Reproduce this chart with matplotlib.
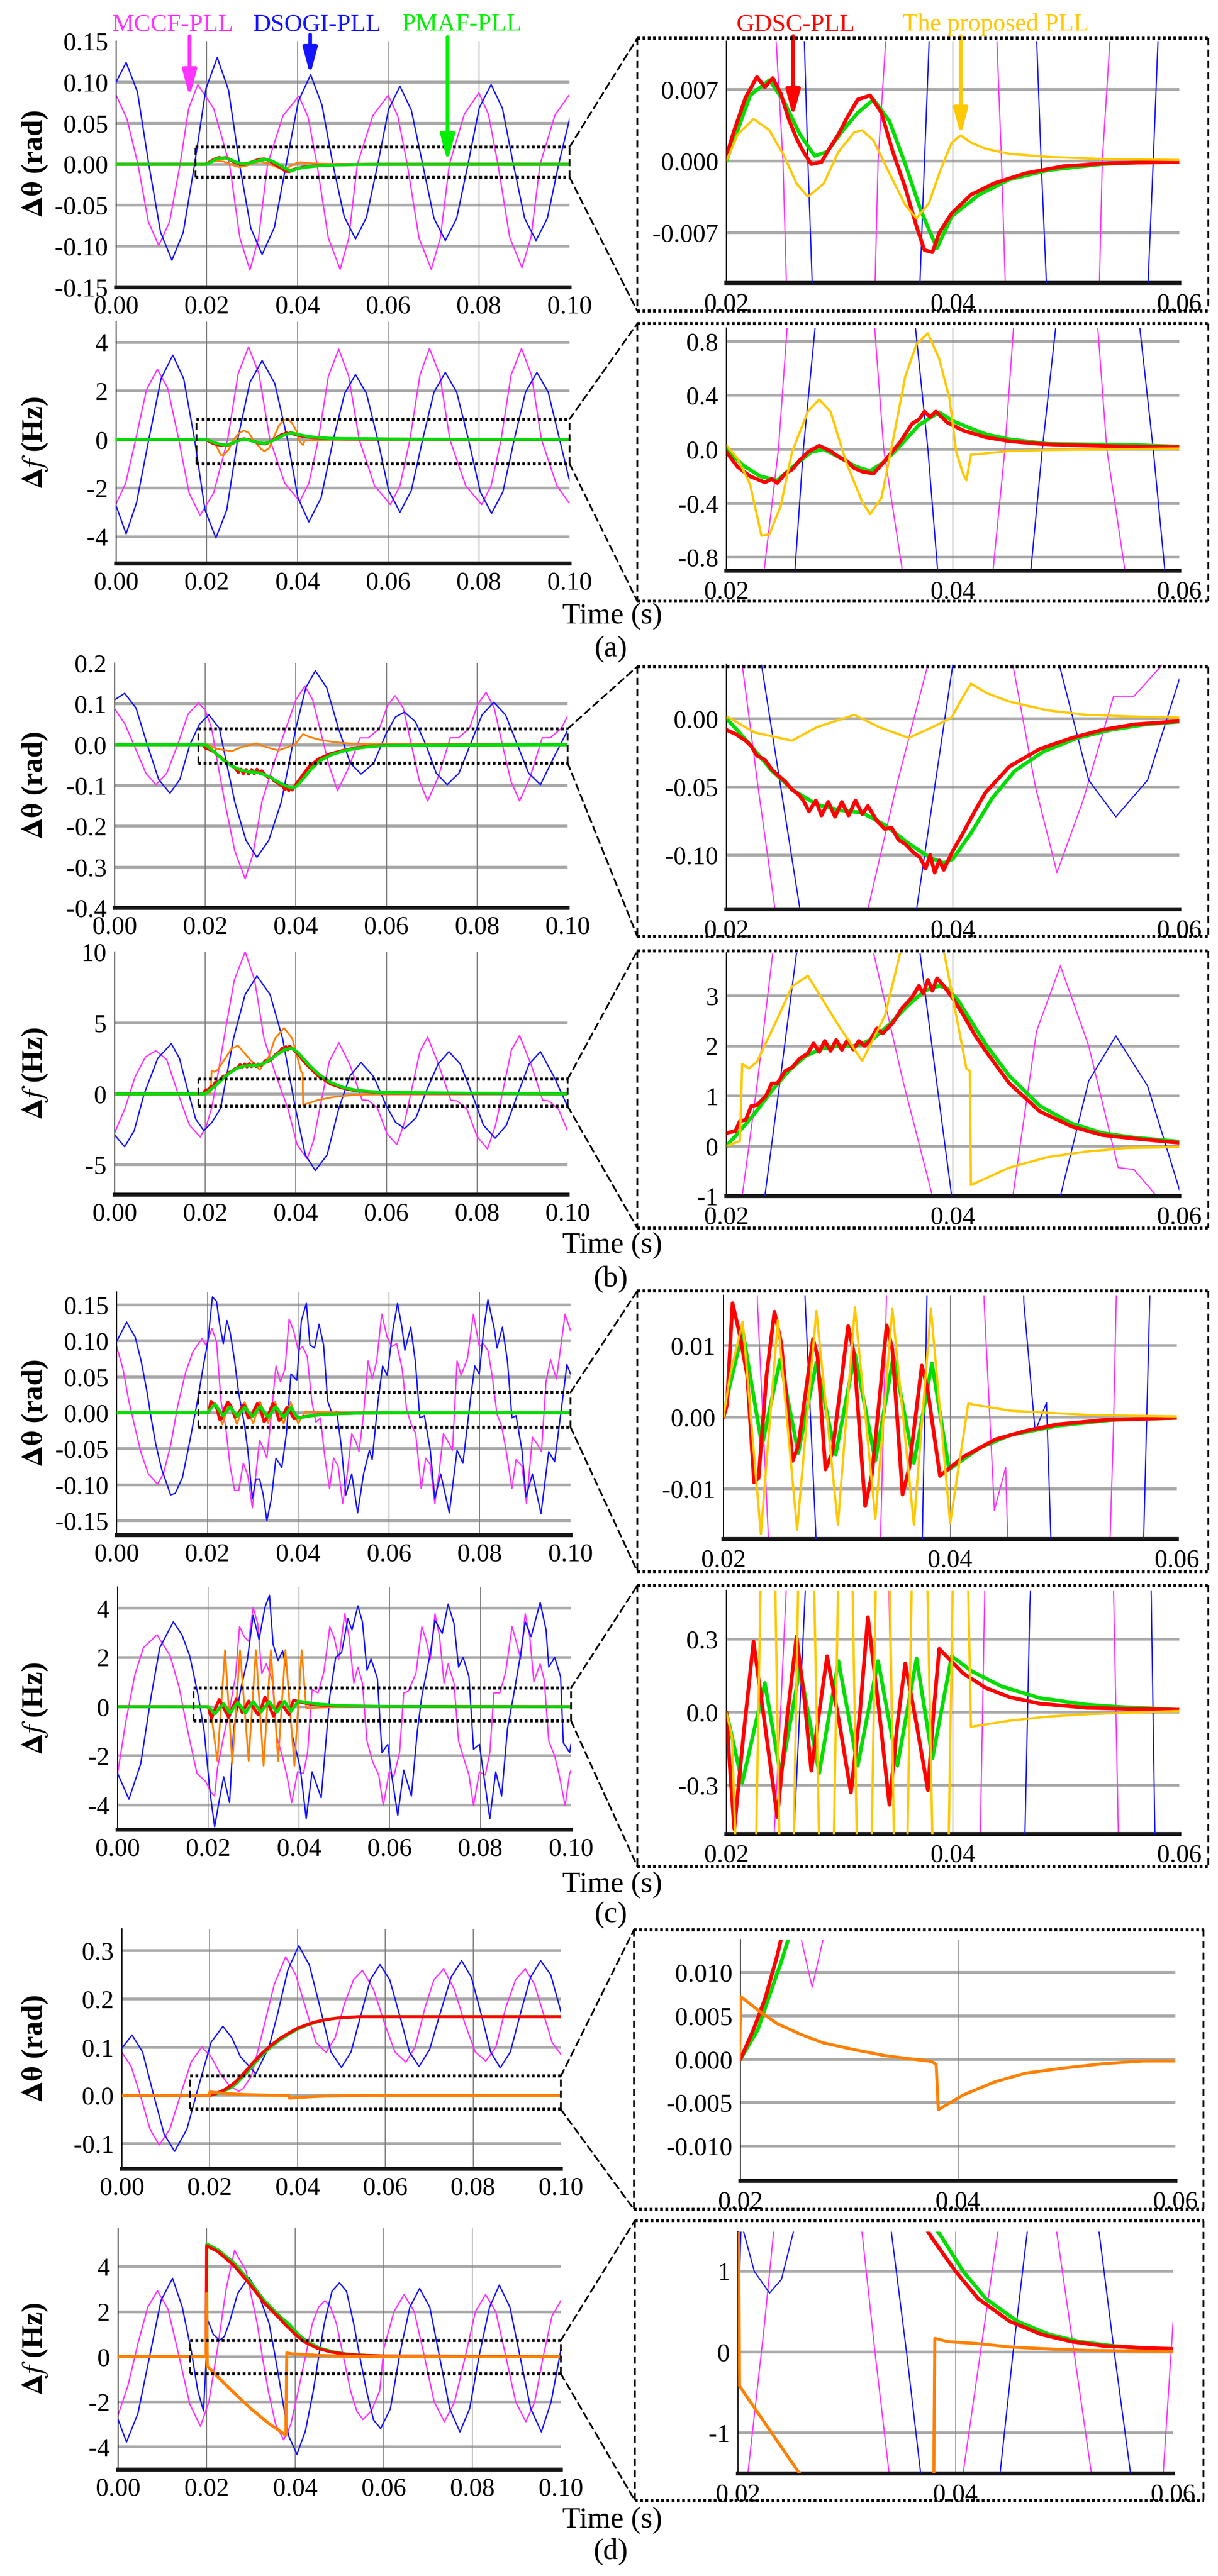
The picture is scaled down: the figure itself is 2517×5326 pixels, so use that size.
import numpy as np
import matplotlib
matplotlib.use('Agg')
import matplotlib.pyplot as plt
from matplotlib.patches import ConnectionPatch
from matplotlib.lines import Line2D

plt.rcParams['font.family'] = ['Liberation Serif', 'DejaVu Serif']
plt.rcParams['mathtext.fontset'] = 'stix'

# ---------------- data: (time in ms, value) ----------------
# (a) theta
A_TH_BLUE = [(0, 0.100), (2.2, 0.124), (4.7, 0.088), (7.2, 0.0), (9.8, -0.083), (12.3, -0.117), (14.8, -0.083),
             (17.3, 0.0), (19.8, 0.092), (22.3, 0.130), (24.8, 0.090), (27.2, 0.0), (29.7, -0.078), (32.2, -0.110),
             (34.9, -0.077), (37.5, 0.0), (40.2, 0.077), (42.9, 0.109), (45.4, 0.072), (47.8, 0.0), (50.3, -0.064),
             (52.8, -0.091), (55.2, -0.065), (57.7, 0.0), (60.1, 0.067), (62.6, 0.095), (65.1, 0.066), (67.6, 0.0),
             (70.1, -0.066), (72.6, -0.093), (75.1, -0.066), (77.6, 0.0), (80.1, 0.069), (82.7, 0.097), (85.2, 0.068),
             (87.6, 0.0), (90.1, -0.066), (92.6, -0.093), (95.1, -0.066), (97.6, 0.0), (100, 0.055)]
A_TH_MAG = [(0, 0.084), (2.4, 0.055), (4.8, 0.0), (7.1, -0.07), (9.4, -0.099), (11.8, -0.07), (14.1, 0.0),
            (16.0, 0.068), (18.0, 0.097), (21.5, 0.068), (25.0, 0.0), (27.3, -0.09), (29.5, -0.129), (31.4, -0.09),
            (33.4, 0.0), (36.8, 0.059), (40.3, 0.083), (42.3, 0.058), (44.3, 0.0), (46.8, -0.09), (49.4, -0.128),
            (51.3, -0.09), (53.2, 0.0), (56.6, 0.059), (60.0, 0.084), (62.1, 0.059), (64.2, 0.0), (66.8, -0.09),
            (69.5, -0.128), (71.5, -0.09), (73.5, 0.0), (76.8, 0.061), (80.0, 0.087), (82.1, 0.061), (84.2, 0.0),
            (86.8, -0.089), (89.5, -0.126), (91.5, -0.089), (93.5, 0.0), (96.8, 0.060), (100, 0.085)]
A_TH_RED = [(0, 0), (19.5, 0), (20, 0.0005), (20.7, 0.003), (21.7, 0.0062), (22.7, 0.0082), (23.4, 0.0072),
            (24.1, 0.0081), (24.8, 0.0066), (25.5, 0.0041), (26.2, 0.0022), (26.8, 0.0009), (27.5, -0.0003),
            (28.4, -0.0001), (29.2, 0.0014), (29.9, 0.0026), (30.6, 0.0041), (31.6, 0.006), (32.7, 0.0064),
            (33.7, 0.0047), (34.7, 0.0009), (35.8, -0.0026), (36.8, -0.0064), (37.5, -0.0087), (38.2, -0.0089),
            (38.8, -0.007), (39.9, -0.0051), (41.6, -0.0033), (43.6, -0.0022), (46.4, -0.0012), (49.8, -0.0005),
            (53.9, -0.0002), (60, -0.0001), (100, 0.0)]
A_TH_GREEN = [(0, 0), (20, 0), (21.0, 0.003), (22.1, 0.0064), (23.8, 0.0079), (25.1, 0.0058), (26.5, 0.0026),
              (27.8, 0.0005), (28.9, 0.0009), (30.3, 0.003), (31.6, 0.0047), (33.0, 0.006), (34.4, 0.0039),
              (35.8, -0.0003), (37.2, -0.0049), (38.6, -0.0085), (39.9, -0.0054), (42.3, -0.0033), (45.0, -0.0018),
              (48.4, -0.0009), (53.2, -0.0003), (57.3, -0.0001), (100, 0.0)]
A_TH_PROP = [(0, 0), (20, 0), (21.0, 0.0026), (22.4, 0.0041), (23.8, 0.003), (25.1, 0.0005), (26.2, -0.0022),
             (27.2, -0.0035), (28.6, -0.0022), (29.9, 0.0009), (31.3, 0.0028), (32.0, 0.003), (33.0, 0.002),
             (34.4, -0.0012), (35.8, -0.0043), (36.8, -0.0056), (37.9, -0.0041), (38.8, -0.0012), (39.9, 0.0018),
             (40.7, 0.0025), (41.6, 0.0018), (42.9, 0.0012), (45.0, 0.0007), (48.4, 0.0004), (53.2, 0.0002),
             (60, 0.0001), (100, 0.0)]
# (a) frequency
A_F_BLUE = [(0, -2.73), (2.2, -3.88), (4.5, -2.6), (7.2, 0.0), (9.9, 2.5), (12.5, 3.47), (14.9, 2.5), (17.3, 0.0),
            (19.6, -2.9), (22.0, -4.05), (24.4, -2.9), (26.8, 0.0), (29.5, 2.35), (32.2, 3.25), (35.0, 2.3),
            (37.8, 0.0), (40.1, -2.4), (42.5, -3.39), (45.2, -2.4), (47.9, 0.0), (50.4, 1.9), (52.8, 2.67),
            (55.2, 1.9), (57.7, 0.0), (60.1, -2.1), (62.6, -2.99), (65.1, -2.1), (67.6, 0.0), (70.1, 1.95),
            (72.6, 2.76), (75.1, 1.95), (77.7, 0.0), (80.3, -2.15), (82.8, -3.04), (85.3, -2.15), (87.8, 0.0),
            (90.3, 1.95), (92.8, 2.76), (95.3, 1.95), (97.8, 0.0), (100, -1.7)]
A_F_MAG = [(0, -2.64), (2.1, -1.8), (4.3, 0.0), (6.7, 2.05), (9.1, 2.89), (11.4, 2.1), (13.8, 0.0), (16.1, -2.2),
           (18.5, -3.12), (21.5, -2.2), (24.6, 0.0), (26.9, 2.7), (29.2, 3.81), (31.5, 2.7), (33.9, 0.0),
           (37.2, -1.8), (40.5, -2.55), (42.5, -1.8), (44.6, 0.0), (46.8, 2.6), (49.1, 3.72), (51.3, 2.6),
           (53.6, 0.0), (57.0, -1.9), (60.5, -2.68), (62.6, -1.9), (64.8, 0.0), (67.0, 2.65), (69.1, 3.75),
           (71.4, 2.65), (73.6, 0.0), (77.1, -1.9), (80.6, -2.68), (82.7, -1.9), (84.9, 0.0), (87.1, 2.65),
           (89.4, 3.75), (91.6, 2.65), (93.8, 0.0), (97.2, -1.9), (100, -2.64)]
A_F_RED = [(0, 0), (19.5, 0), (20, -0.02), (21.0, -0.13), (22.1, -0.2), (23.4, -0.245), (24.0, -0.22), (24.5, -0.25),
           (25.2, -0.18), (25.8, -0.15), (26.5, -0.08), (27.2, -0.02), (28.2, 0.027), (29.2, -0.013), (30.0, -0.06),
           (30.6, -0.085), (31.3, -0.14), (32.0, -0.165), (33.0, -0.18), (34.0, -0.085), (35.4, 0.06), (36.4, 0.19),
           (37.0, 0.22), (37.5, 0.28), (38.0, 0.24), (38.5, 0.28), (39.5, 0.2), (40.9, 0.14), (42.9, 0.09),
           (45.0, 0.06), (47.7, 0.04), (50.5, 0.03), (53.9, 0.024), (60, 0.015), (100, 0.0)]
A_F_GREEN = [(0, 0), (20, 0), (21.5, -0.12), (23.0, -0.2), (24.5, -0.23), (26.0, -0.12), (27.5, -0.02), (28.6, 0.0),
             (30.0, -0.06), (31.5, -0.13), (32.7, -0.16), (34.0, -0.09), (35.5, 0.04), (37.0, 0.18), (38.8, 0.275),
             (40.0, 0.21), (41.6, 0.155), (43.0, 0.11), (45.0, 0.075), (48.4, 0.04), (55.3, 0.034), (60, 0.02),
             (100, 0.0)]
A_F_PROP = [(0, 0), (19.8, 0), (20, 0.03), (21.0, -0.07), (22.1, -0.26), (23.1, -0.64), (23.8, -0.63), (24.8, -0.42),
            (25.8, -0.02), (27.2, 0.28), (28.2, 0.37), (29.2, 0.28), (30.6, -0.1), (32.0, -0.39), (32.7, -0.48),
            (33.7, -0.36), (34.7, 0.06), (35.8, 0.54), (36.8, 0.78), (37.8, 0.86), (38.8, 0.67), (39.7, 0.38),
            (40.3, -0.02), (40.9, -0.18), (41.2, -0.23), (41.6, -0.04), (42.9, -0.03), (45.0, -0.013),
            (48.4, -0.005), (60, 0.006), (100, 0.0)]
# (b) theta
B_TH_BLUE = [(0, 0.11), (2.2, 0.126), (4.7, 0.09), (7.2, 0.0), (9.7, -0.085), (12.2, -0.119), (14.4, -0.085),
             (16.6, 0.0), (18.7, 0.05), (20.8, 0.073), (23.1, 0.04), (24.8, -0.05), (26.5, -0.14), (29.0, -0.235),
             (31.4, -0.276), (34.0, -0.235), (36.8, -0.14), (38.4, -0.05), (40.0, 0.04), (42.2, 0.14), (44.3, 0.181),
             (46.8, 0.14), (49.4, 0.04), (52.0, -0.045), (54.4, -0.072), (57.2, -0.045), (60.0, 0.029), (62.0, 0.068),
             (64.0, 0.080), (66.4, 0.056), (68.7, 0.0), (71.0, -0.07), (73.4, -0.098), (76.0, -0.07), (78.5, 0.0),
             (81.1, 0.073), (83.7, 0.104), (86.3, 0.073), (88.9, 0.0), (91.4, -0.07), (94.0, -0.098), (97.0, -0.03),
             (100, 0.035)]
B_TH_MAG = [(0, 0.088), (2.3, 0.05), (4.6, -0.01), (6.9, -0.07), (9.1, -0.098), (11.5, -0.07), (13.9, 0.0),
            (16.2, 0.075), (18.5, 0.102), (20.0, 0.085), (21.4, 0.04), (22.8, -0.05), (24.3, -0.14), (26.5, -0.26),
            (28.8, -0.329), (30.5, -0.27), (32.5, -0.14), (35.0, -0.05), (37.8, 0.04), (40.0, 0.11), (42.0, 0.144),
            (43.7, 0.11), (45.3, 0.04), (47.3, -0.05), (49.2, -0.113), (51.5, -0.06), (54.2, 0.0167), (56.0, 0.0167),
            (58.4, 0.039), (60.2, 0.095), (61.9, 0.12), (63.7, 0.09), (65.5, 0.0), (67.3, -0.09), (69.1, -0.138),
            (71.4, -0.08), (74.1, 0.017), (75.9, 0.017), (78.3, 0.04), (80.2, 0.10), (82.0, 0.128), (83.8, 0.09),
            (85.6, 0.0), (87.5, -0.09), (89.4, -0.138), (91.7, -0.08), (94.4, 0.017), (96.2, 0.017), (98.6, 0.04),
            (100, 0.07)]
B_TH_RED = [(0, 0), (19.5, 0), (20.0, -0.008), (20.8, -0.011), (21.7, -0.016), (22.2, -0.020), (22.7, -0.027),
            (23.4, -0.030), (24.0, -0.037), (24.5, -0.041), (25.2, -0.046), (25.8, -0.052), (26.3, -0.055),
            (26.8, -0.060), (27.3, -0.068), (27.9, -0.060), (28.4, -0.071), (29.0, -0.061), (29.6, -0.072),
            (30.2, -0.061), (30.8, -0.071), (31.4, -0.060), (32.0, -0.070), (32.5, -0.064), (33.3, -0.075),
            (34.0, -0.081), (34.6, -0.080), (35.2, -0.089), (35.8, -0.092), (36.5, -0.098), (37.1, -0.102),
            (37.6, -0.110), (38.0, -0.100), (38.4, -0.113), (38.8, -0.104), (39.2, -0.111), (40.0, -0.097),
            (40.9, -0.084), (42.0, -0.067), (42.9, -0.054), (45.0, -0.035), (47.7, -0.022), (50.5, -0.014),
            (53.2, -0.008), (56.0, -0.004), (60.0, -0.0016), (100, 0.0)]
B_TH_GREEN = [(0, 0), (20, 0), (20.5, -0.004), (22.0, -0.018), (24.0, -0.038), (26.0, -0.053), (28.0, -0.063),
              (30.0, -0.067), (32.0, -0.069), (34.0, -0.078), (36.0, -0.091), (38.0, -0.102), (39.2, -0.106),
              (40.0, -0.103), (41.6, -0.084), (43.5, -0.058), (45.5, -0.038), (48.0, -0.024), (51.0, -0.014),
              (54.0, -0.008), (57.0, -0.004), (60.0, -0.002), (100, 0.0)]
B_TH_PROP = [(0, 0), (20, 0), (20.1, 0.0016), (22.5, -0.010), (25.8, -0.016), (28.0, -0.006), (31.3, 0.003),
             (33.5, -0.006), (36.1, -0.014), (38.2, -0.006), (39.9, 0.001), (40.8, 0.015), (41.6, 0.026),
             (43.0, 0.019), (45.0, 0.0127), (48.4, 0.0063), (51.8, 0.003), (56.6, 0.0016), (60, 0.001), (100, 0.0)]
# (b) frequency
B_F_BLUE = [(0, -2.9), (2.2, -3.73), (4.3, -2.6), (6.5, 0.0), (9.5, 2.5), (12.5, 3.53), (14.3, 2.5), (16.1, 0.3),
            (17.9, -1.8), (19.7, -2.59), (21.5, -2.0), (23.4, -1.0), (24.8, 1.4), (26.2, 3.86), (28.8, 7.0),
            (31.4, 8.3), (34.3, 7.0), (37.1, 3.86), (38.5, 1.4), (39.9, -1.0), (42.1, -4.3), (44.3, -5.4),
            (46.9, -4.3), (49.5, -1.0), (52.0, 1.3), (54.4, 2.2), (57.2, 1.2), (60.0, -0.86), (62.0, -2.0),
            (64.0, -2.44), (66.5, -1.7), (68.9, 0.27), (71.4, 2.1), (73.8, 2.97), (76.3, 2.1), (78.9, 0.0),
            (81.4, -2.2), (84.0, -3.12), (86.5, -2.2), (89.0, 0.0), (91.5, 2.1), (94.0, 2.97), (97.0, 1.2),
            (100, -0.9)]
B_F_MAG = [(0, -2.74), (2.3, -1.0), (4.5, 1.2), (6.8, 2.6), (9.1, 3.04), (11.5, 2.4), (14.0, 0.0), (16.5, -2.2),
           (18.9, -3.04), (20.2, -2.3), (21.4, -1.0), (22.7, 1.2), (24.1, 3.86), (26.4, 8.0), (28.8, 10.0),
           (30.9, 8.0), (33.0, 3.86), (35.6, 1.3), (38.2, -1.0), (40.3, -3.6), (42.5, -4.57), (43.9, -3.3),
           (45.3, -1.0), (47.4, 2.3), (49.5, 3.6), (52.0, 2.0), (54.6, -0.43), (56.0, -0.47), (58.0, -1.0),
           (60.1, -2.8), (62.3, -3.58), (64.0, -2.0), (65.7, 0.5), (67.4, 3.0), (69.1, 4.0), (71.6, 2.0),
           (74.2, -0.45), (75.6, -0.5), (77.8, -1.1), (80.0, -3.0), (82.3, -3.88), (84.1, -2.2), (85.9, 0.5),
           (87.6, 3.1), (89.4, 4.1), (92.0, 2.0), (94.5, -0.45), (95.9, -0.5), (98.0, -1.1), (100, -2.6)]
B_F_RED = [(0, 0), (19.5, 0), (20.0, 0.26), (20.8, 0.3), (21.2, 0.5), (21.7, 0.52), (22.2, 0.8), (22.7, 0.82),
           (23.5, 1.0), (24.0, 1.25), (24.5, 1.25), (25.2, 1.5), (25.8, 1.57), (26.5, 1.75), (27.2, 1.85),
           (27.7, 2.05), (28.2, 1.88), (28.7, 2.1), (29.2, 1.9), (29.7, 2.12), (30.2, 1.92), (30.7, 2.12),
           (31.2, 1.93), (31.7, 2.1), (32.2, 2.0), (32.7, 2.11), (33.3, 2.35), (33.8, 2.25), (34.7, 2.46),
           (35.5, 2.75), (36.4, 2.97), (37.0, 3.2), (37.4, 3.05), (37.8, 3.32), (38.2, 3.1), (38.6, 3.35),
           (39.2, 3.2), (40.0, 2.95), (40.9, 2.63), (42.0, 2.2), (42.9, 1.9), (45.0, 1.25), (47.7, 0.69),
           (50.5, 0.39), (53.2, 0.22), (56.0, 0.15), (60.0, 0.065), (100, 0.0)]
B_F_GREEN = [(0, 0), (20.0, 0.0), (21.0, 0.25), (22.5, 0.65), (24.0, 1.1), (25.5, 1.5), (27.0, 1.8), (28.5, 1.95),
             (30.0, 2.0), (31.5, 2.0), (33.0, 2.15), (34.5, 2.45), (36.0, 2.8), (37.5, 3.1), (38.8, 3.2),
             (39.5, 3.15), (40.5, 2.9), (41.6, 2.5), (43.0, 2.0), (45.0, 1.4), (47.7, 0.8), (50.5, 0.45),
             (53.2, 0.26), (56.0, 0.17), (60.0, 0.09), (100, 0.0)]
B_F_PROP = [(0, 0), (20, 0), (21.2, 0.1), (21.4, 1.64), (22.0, 1.55), (22.7, 1.68), (24.5, 2.54), (25.8, 3.19),
            (27.2, 3.4), (29.9, 2.41), (32.0, 1.7), (34.0, 2.6), (35.4, 3.9), (37.4, 4.64), (39.2, 3.9),
            (41.2, 1.55), (41.5, 1.5), (41.6, -0.78), (45.0, -0.43), (48.4, -0.22), (51.8, -0.11), (55.3, -0.04),
            (60, -0.02), (100, 0.0)]
# (c) theta
C_TH_BLUE = [(0, 0.099), (2.2, 0.126), (4.1, 0.105), (5.4, 0.072), (6.7, 0.029), (7.6, -0.007), (8.6, -0.043),
             (9.9, -0.078), (11.9, -0.114), (12.9, -0.112), (14.5, -0.090), (16.1, -0.040), (17.8, 0.016),
             (19.1, 0.065), (20.1, 0.099), (21.1, 0.161), (22.0, 0.155), (22.7, 0.123), (23.5, 0.096), (24.3, 0.128),
             (25.0, 0.112), (26.0, 0.072), (26.9, 0.027), (28.2, -0.018), (28.9, -0.052), (29.9, -0.119),
             (30.7, -0.092), (31.5, -0.092), (32.3, -0.114), (33.1, -0.150), (34.1, -0.119), (35.1, -0.063),
             (36.4, -0.076), (37.4, -0.029), (38.4, 0.054), (39.7, 0.045), (40.7, 0.128), (41.8, 0.152),
             (42.6, 0.094), (43.6, 0.090), (44.6, 0.123), (45.6, 0.094), (46.5, 0.016), (47.5, -0.002),
             (48.5, 0.002), (49.5, -0.047), (50.5, -0.114), (51.8, -0.085), (53.1, -0.139), (54.4, -0.085),
             (55.7, -0.052), (56.3, -0.065), (57.6, 0.016), (58.6, 0.065), (59.6, 0.052), (60.9, 0.117),
             (61.9, 0.152), (62.9, 0.117), (63.5, 0.087), (64.8, 0.119), (65.8, 0.072), (66.8, -0.007),
             (67.8, -0.004), (69.1, -0.052), (70.1, -0.119), (71.4, -0.085), (73.3, -0.139), (75.0, -0.052),
             (76.3, -0.070), (77.9, 0.016), (78.9, 0.065), (79.9, 0.054), (80.9, 0.117), (81.8, 0.157),
             (83.2, 0.117), (83.8, 0.090), (85.0, 0.119), (86.1, 0.072), (87.1, -0.007), (88.0, -0.004),
             (89.3, -0.052), (90.2, -0.117), (91.6, -0.085), (93.5, -0.140), (95.2, -0.054), (96.5, -0.068),
             (98.2, 0.016), (99.2, 0.067), (100, 0.054)]
C_TH_MAG = [(0, 0.092), (1.4, 0.061), (2.7, 0.016), (4.1, -0.022), (5.4, -0.056), (7.0, -0.085), (9.0, -0.099),
            (10.3, -0.085), (11.9, -0.045), (13.5, 0.011), (15.2, 0.056), (16.8, 0.085), (18.8, 0.103),
            (19.7, 0.094), (21.0, 0.117), (22.0, 0.099), (23.0, 0.016), (24.0, -0.018), (25.0, -0.074),
            (26.0, -0.108), (26.9, -0.108), (27.9, -0.070), (28.9, -0.087), (29.9, -0.132), (30.5, -0.096),
            (31.5, -0.038), (32.5, -0.052), (33.1, -0.063), (34.1, -0.002), (35.1, 0.065), (36.1, 0.043),
            (37.1, 0.061), (38.0, 0.130), (39.0, 0.114), (40.0, 0.087), (41.0, 0.092), (42.0, 0.078), (43.0, 0.016),
            (43.9, -0.013), (44.9, -0.007), (45.9, -0.063), (46.9, -0.105), (47.8, -0.063), (48.8, -0.074),
            (49.8, -0.126), (50.8, -0.085), (51.8, -0.029), (52.7, -0.040), (53.4, -0.054), (54.4, -0.002),
            (55.4, 0.072), (56.3, 0.047), (57.3, 0.072), (58.4, 0.137), (59.6, 0.105), (60.6, 0.092), (61.7, 0.096),
            (62.9, 0.061), (63.9, 0.004), (64.9, -0.016), (65.9, -0.029), (67.1, -0.105), (68.1, -0.063),
            (69.1, -0.072), (70.1, -0.126), (71.0, -0.085), (72.0, -0.029), (73.0, -0.040), (74.0, -0.052),
            (75.0, 0.072), (75.9, 0.052), (77.3, 0.076), (78.6, 0.137), (79.9, 0.092), (80.8, 0.096), (81.8, 0.087),
            (82.8, 0.049), (83.8, -0.002), (84.8, -0.018), (85.8, -0.052), (87.1, -0.105), (88.0, -0.065),
            (89.3, -0.074), (90.3, -0.126), (91.6, -0.034), (92.6, -0.043), (93.6, -0.054), (94.6, 0.043),
            (95.6, 0.074), (96.9, 0.047), (98.8, 0.137), (100, 0.114)]
C_TH_RED = [(0, 0), (20, 0), (20.3, 0.0016), (20.8, 0.0159), (21.4, 0.0118), (22.1, 0.0058), (22.7, -0.0091),
            (23.1, -0.0085), (23.8, 0.0058), (24.5, 0.0147), (25.1, 0.0103), (26.1, -0.0061), (26.6, -0.0040),
            (27.9, 0.0109), (28.3, 0.0085), (29.0, -0.0073), (29.6, -0.0050), (31.0, 0.0127), (31.5, 0.0090),
            (32.5, -0.0124), (33.1, -0.0080), (34.4, 0.0128), (34.9, 0.0095), (35.8, -0.0108), (36.4, -0.0070),
            (37.5, 0.0072), (38.0, 0.0040), (39.1, -0.0082), (41.2, -0.0055), (44.0, -0.0031), (46.7, -0.0019),
            (49.5, -0.0010), (53.6, -0.0004), (60, -0.0001), (100, 0.0)]
C_TH_GREEN = [(0, 0), (20, 0), (20.5, 0.004), (21.7, 0.012), (23.4, -0.004), (25.0, 0.008), (26.6, -0.005),
              (28.2, 0.0076), (29.9, -0.0052), (31.6, 0.0088), (33.4, -0.0061), (35.0, 0.0085), (36.8, -0.0064),
              (38.4, 0.0075), (39.9, -0.0073), (42.6, -0.0043), (45.3, -0.0025), (49.5, -0.0012), (54.2, -0.0004),
              (60, -0.0001), (100, 0.0)]
C_TH_PROP = [(0, 0), (20, 0), (20.6, 0.006), (21.7, 0.0133), (23.3, -0.0163), (24.8, 0.0135), (26.5, -0.0157),
             (28.2, 0.0148), (30.1, -0.015), (31.6, 0.0153), (33.4, -0.0142), (34.9, 0.0151), (36.8, -0.015),
             (38.3, 0.0151), (40.0, -0.0148), (41.6, 0.0019), (42.6, 0.0016), (45.3, 0.0009), (48.8, 0.0006),
             (52.2, 0.0003), (60, 0.0001), (100, 0.0)]
# (c) frequency
C_F_BLUE = [(0, -2.71), (2.5, -3.76), (5.1, -2.32), (7.4, 0.43), (9.3, 2.40), (12.3, 3.45), (14.2, 2.92),
            (15.9, 2.07), (17.8, 0.43), (19.1, -1.01), (20.4, -3.50), (21.4, -4.88), (22.4, -3.83), (23.4, -2.85),
            (24.7, -3.90), (25.6, -0.88), (27.3, 0.83), (28.6, 1.88), (29.9, 3.71), (31.2, 2.73), (32.5, 4.04),
            (33.5, 4.53), (34.3, 2.53), (35.4, 1.88), (36.4, 2.27), (37.4, 1.42), (38.4, -1.08), (39.3, -1.73),
            (40.3, -2.52), (41.6, -4.55), (42.9, -2.65), (44.9, -3.70), (46.8, 0.43), (48.1, 2.01), (49.4, 2.20),
            (50.8, 3.58), (51.7, 3.12), (53.0, 4.10), (54.0, 3.45), (55.0, 1.48), (55.9, 1.94), (57.3, 1.15),
            (58.3, -1.86), (59.6, -1.53), (60.5, -2.85), (61.8, -4.42), (63.1, -2.58), (64.8, -3.63), (66.1, -1.01),
            (67.1, 0.43), (69.0, 2.20), (70.0, 3.51), (71.6, 2.98), (72.9, 4.17), (74.2, 3.38), (75.2, 1.61),
            (76.2, 2.01), (77.5, 1.22), (78.5, -1.73), (79.8, -1.53), (80.8, -2.85), (82.1, -4.55), (83.4, -2.65),
            (84.7, -3.63), (86.0, -0.88), (87.3, 0.43), (88.9, 2.14), (89.9, 3.45), (91.2, 2.85), (93.2, 4.24),
            (94.5, 3.12), (95.1, 1.61), (96.4, 2.01), (97.7, 1.22), (98.3, -1.47), (99.7, -1.86), (100, -1.53)]
C_F_MAG = [(0, -2.71), (1.8, -0.62), (3.8, 1.29), (5.7, 2.40), (8.7, 2.92), (11.6, 2.07), (13.6, 0.76),
           (15.5, -1.01), (17.5, -2.71), (19.4, -3.04), (20.7, -3.50), (21.4, -3.63), (22.0, -2.52), (23.4, -1.21),
           (24.7, -0.09), (26.0, 1.22), (26.9, 3.25), (27.9, 2.86), (28.9, 2.66), (29.9, 4.04), (30.9, 3.38),
           (31.8, 1.35), (32.8, 1.74), (34.1, 1.09), (35.1, -1.21), (36.4, -2.06), (37.4, -2.85), (38.4, -3.90),
           (39.7, -2.65), (41.0, -2.71), (41.9, -1.86), (42.9, 0.70), (44.2, 0.56), (45.5, 1.42), (46.8, 3.25),
           (47.8, 2.79), (48.8, 1.94), (50.1, 3.78), (51.1, 2.79), (52.1, 0.96), (53.0, 1.61), (54.0, 0.96),
           (55.0, -1.40), (56.3, -2.26), (57.6, -2.78), (58.6, -4.02), (59.9, -2.65), (60.9, -2.85), (62.2, -1.86),
           (63.1, 0.56), (64.1, 0.63), (65.8, 1.35), (67.1, 3.25), (68.0, 2.73), (69.0, 1.94), (70.0, 3.78),
           (71.0, 2.86), (72.0, 0.96), (72.9, 1.74), (74.2, 0.96), (75.2, -1.40), (76.5, -2.19), (77.5, -2.78),
           (78.5, -4.02), (79.8, -2.65), (81.1, -2.78), (82.1, -1.86), (83.0, 0.56), (84.3, 0.56), (85.6, 1.42),
           (87.0, 3.25), (87.9, 2.66), (88.9, 1.94), (89.9, 3.78), (90.9, 2.86), (91.8, 1.02), (93.2, 1.74),
           (94.1, 1.09), (95.1, -1.40), (96.4, -2.00), (97.4, -2.78), (98.7, -4.02), (99.7, -2.71), (100, -2.6)]
C_F_RED = [(0, 0), (20, 0), (20.3, -0.22), (20.7, -0.48), (21.5, -0.1), (22.4, 0.29), (23.4, -0.05), (24.5, -0.43),
           (25.3, -0.05), (26.2, 0.31), (26.9, 0.05), (27.5, -0.24), (28.2, 0.0), (28.9, 0.23), (30.0, -0.05),
           (31.0, -0.33), (31.8, 0.0), (32.5, 0.39), (33.5, 0.0), (34.4, -0.38), (35.1, -0.05), (35.8, 0.2),
           (36.8, -0.05), (37.8, -0.32), (38.3, 0.0), (38.8, 0.26), (40.9, 0.16), (42.9, 0.10), (45.0, 0.062),
           (47.7, 0.035), (51.8, 0.018), (56.0, 0.013), (60, 0.01), (100, 0.0)]
C_F_GREEN = [(0, 0), (20, 0), (20.5, -0.1), (21.4, -0.29), (23.4, 0.12), (24.8, -0.26), (26.5, 0.18), (28.2, -0.25),
             (29.9, 0.21), (31.6, -0.22), (33.4, 0.21), (35.1, -0.22), (36.8, 0.22), (38.2, -0.19), (39.9, 0.23),
             (41.6, 0.17), (44.3, 0.106), (47.7, 0.058), (51.8, 0.031), (54.6, 0.022), (60, 0.01), (100, 0.0)]
C_F_PROP = [(0, 0), (20, 0), (20.5, -0.1), (22.0, -2.2), (23.7, 2.3), (25.3, -2.3), (27.0, 2.3), (28.9, -2.2),
            (30.5, 2.3), (32.2, -2.4), (33.8, 2.3), (35.4, -2.2), (37.0, 2.3), (39.0, -2.4), (40.6, 2.3),
            (41.6, -0.06), (45.0, -0.035), (48.4, -0.018), (52.0, -0.008), (60, 0.005), (100, 0.0)]
# (d) theta
D_TH_BLUE = [(0, 0.098), (2.3, 0.125), (4.7, 0.09), (7.1, 0.005), (9.6, -0.08), (12.0, -0.116), (14.8, -0.07),
             (17.5, 0.02), (20.3, 0.11), (23.0, 0.143), (25.0, 0.12), (27.0, 0.08), (30.5, 0.045), (33.5, 0.10),
             (35.5, 0.17), (37.8, 0.26), (40.3, 0.310), (42.7, 0.27), (45.2, 0.18), (47.6, 0.09), (50.0, 0.058),
             (52.2, 0.09), (54.4, 0.165), (56.6, 0.24), (58.8, 0.271), (61.0, 0.24), (63.3, 0.165), (65.5, 0.09),
             (67.7, 0.060), (70.1, 0.095), (72.5, 0.17), (75.0, 0.245), (77.4, 0.279), (79.6, 0.245), (81.8, 0.17),
             (84.0, 0.09), (86.2, 0.057), (88.5, 0.09), (90.8, 0.17), (93.1, 0.245), (95.4, 0.279), (97.7, 0.25),
             (100, 0.174)]
D_TH_MAG = [(0, 0.089), (2.1, 0.06), (4.2, 0.0), (6.4, -0.07), (8.5, -0.103), (10.9, -0.07), (13.3, 0.0),
            (15.8, 0.07), (18.2, 0.100), (20.3, 0.08), (22.4, 0.045), (24.5, 0.02), (25.6, 0.0138), (26.6, 0.0083),
            (27.6, 0.0138), (29.5, 0.04), (32.0, 0.13), (34.7, 0.23), (37.3, 0.287), (39.6, 0.25), (41.9, 0.18),
            (44.2, 0.11), (46.5, 0.089), (48.6, 0.12), (50.7, 0.19), (52.8, 0.24), (54.8, 0.259), (57.3, 0.22),
            (59.8, 0.15), (62.2, 0.09), (64.7, 0.069), (66.8, 0.10), (69.0, 0.18), (71.1, 0.24), (73.3, 0.262),
            (75.7, 0.22), (78.1, 0.15), (80.5, 0.09), (82.9, 0.071), (85.2, 0.10), (87.4, 0.18), (89.7, 0.24),
            (91.9, 0.262), (94.0, 0.23), (96.0, 0.17), (98.0, 0.11), (100, 0.085)]
D_TH_RED = [(0, 0), (20, 0), (21.2, 0.0034), (22.3, 0.0071), (23.4, 0.012), (24.5, 0.018), (26, 0.029), (28, 0.048),
            (30, 0.069), (32, 0.088), (34, 0.104), (36, 0.118), (38, 0.129), (40, 0.139), (42, 0.146), (44, 0.152),
            (46, 0.156), (48, 0.159), (50, 0.161), (54, 0.163), (100, 0.163)]
D_TH_GREEN = [(0, 0), (20, 0), (21.6, 0.0034), (22.6, 0.0071), (23.7, 0.011), (24.4, 0.0138), (26, 0.024),
              (28, 0.043), (30, 0.064), (32, 0.084), (34, 0.101), (36, 0.115), (38, 0.127), (40, 0.137),
              (42, 0.145), (44, 0.151), (46, 0.156), (48, 0.159), (50, 0.161), (54, 0.163), (100, 0.163)]
D_TH_PROP = [(0, 0), (19.9, 0), (20.05, 0.0072), (21.9, 0.0054), (23.4, 0.0041), (25.5, 0.0029), (27.6, 0.0019),
             (30.5, 0.0011), (33.4, 0.0004), (37.6, -0.00025), (38.0, -0.0006), (38.2, -0.0058), (40.5, -0.0041),
             (43.4, -0.0026), (46.2, -0.0016), (49.8, -0.001), (53.4, -0.0005), (57, -0.0002), (60, -0.0002),
             (100, 0.0)]
# (d) frequency
D_F_BLUE = [(0, -2.78), (1.9, -3.78), (4.5, -2.5), (7.1, 0.0), (9.7, 2.5), (12.3, 3.48), (14.5, 2.2), (16.5, 0.3),
            (18.0, -1.5), (19.3, -2.4), (19.8, -0.5), (20.3, 1.6), (21.5, 1.0), (22.9, 0.73), (24.0, 0.9),
            (25.1, 1.49), (27.0, 2.8), (29.5, 3.53), (31.5, 2.9), (34.1, 1.49), (35.5, 0.0), (36.8, -1.5),
            (38.5, -3.5), (40.4, -4.32), (42.3, -3.3), (44.1, -1.5), (45.3, 0.0), (46.6, 1.49), (48.3, 2.9),
            (50.0, 3.28), (51.6, 2.9), (53.2, 1.49), (54.6, 0.0), (56.1, -1.5), (57.7, -2.8), (59.3, -3.18),
            (61.5, -2.3), (63.7, 0.2), (65.9, 2.2), (68.1, 3.03), (70.4, 2.2), (72.6, 0.0), (74.9, -2.3),
            (77.2, -3.33), (79.4, -2.3), (81.6, 0.1), (83.9, 2.2), (86.1, 3.18), (88.5, 2.2), (90.8, 0.0),
            (93.2, -2.3), (95.6, -3.33), (97.8, -2.0), (100, 0.3)]
D_F_MAG = [(0, -2.58), (2.2, -1.3), (4.5, 0.6), (6.7, 2.2), (8.9, 2.93), (11.3, 2.1), (13.8, 0.0), (16.2, -2.1),
           (18.6, -3.08), (20.5, -2.0), (22.4, 0.3), (24.4, 3.0), (26.3, 4.72), (28.9, 3.8), (31.4, 1.49),
           (32.6, 0.0), (33.9, -1.5), (35.6, -3.0), (37.4, -3.68), (39.0, -3.0), (40.7, -1.5), (42.3, 0.0),
           (43.9, 1.49), (45.3, 2.2), (46.7, 2.49), (48.0, 2.2), (49.3, 1.49), (50.9, 0.0), (52.5, -1.5),
           (53.9, -2.4), (55.3, -2.78), (57.2, -2.4), (59.1, -1.5), (60.0, 0.35), (62.3, 2.0), (64.6, 2.76),
           (66.9, 2.0), (69.2, 0.0), (71.4, -2.0), (73.7, -2.88), (76.0, -2.0), (78.4, 0.0), (80.7, 2.0),
           (83.0, 2.76), (85.3, 2.0), (87.6, 0.0), (89.8, -2.0), (92.1, -2.88), (94.1, -2.0), (96.0, 0.0),
           (98.0, 1.8), (100, 2.49)]
D_F_RED = [(0, 0), (19.9, 0), (20.0, 4.92), (22.5, 4.67), (26.0, 4.08), (29.5, 3.28), (33.0, 2.39), (36.5, 1.7),
           (37.9, 1.4), (40.0, 1.0), (42.1, 0.66), (45.0, 0.38), (47.9, 0.22), (50.7, 0.13), (53.6, 0.077),
           (57.9, 0.05), (60, 0.04), (100, 0.0)]
D_F_GREEN = [(0, 0), (20.0, 0), (20.05, 5.0), (22.5, 4.75), (26.0, 4.2), (29.5, 3.4), (33.0, 2.5), (36.5, 1.8),
             (38.6, 1.45), (40.7, 1.0), (42.8, 0.66), (45.7, 0.38), (48.6, 0.22), (51.4, 0.13), (54.3, 0.08),
             (57.0, 0.05), (60, 0.03), (100, 0.0)]
D_F_PROP = [(0, 0), (19.9, 0), (20.0, 2.8), (20.15, -0.42), (25.4, -1.45), (30.0, -2.3), (34.0, -2.95),
            (37.9, -3.48), (38.1, 0.17), (39.3, 0.13), (42.1, 0.105), (45.0, 0.064), (47.9, 0.044), (52.1, 0.022),
            (60, 0.008), (100, 0.0)]

LEGEND_NAMES = ['MCCF-PLL', 'DSOGI-PLL', 'PMAF-PLL', 'GDSC-PLL', 'The proposed PLL']
GROUP_TAGS = ['(a)', '(b)', '(c)', '(d)']

# ---------------- layout (pixels of the 2517 x 5326 canvas) ----------------
W, H = 2517, 5326
C_MAG, C_BLUE, C_GREEN, C_RED = '#ff33ff', '#1414ff', '#00dd00', '#ff0000'
C_GOLD, C_ORANGE = '#ffc800', '#ff8000'
THETA_LABEL = r'$\mathbf{\Delta\theta}$ (rad)'
FREQ_LABEL = r'$\mathbf{\Delta}\mathit{f}$ (Hz)'

rows = [
    dict(lbl=THETA_LABEL, L=(240, 1177, 85, 594), lylim=(-0.15, 0.15), lt=[-0.15, -0.10, -0.05, 0.0, 0.05, 0.10, 0.15],
         lf='%.2f', lbox=(0.0175, -0.016, 0.021), R=(1501, 2437, 85, 585), rylim=(-0.0119, 0.0117),
         rt=[-0.007, 0.0, 0.007], rf='%.3f', B=(1317, 2497, 79, 643),
         s=(A_TH_MAG, A_TH_BLUE, A_TH_PROP, A_TH_RED, A_TH_GREEN)),
    dict(lbl=FREQ_LABEL, L=(240, 1177, 665, 1165), lylim=(-5.1, 4.85), lt=[-4, -2, 0, 2, 4], lf='%d',
         lbox=(0.0177, -1.0, 0.84), R=(1501, 2437, 678, 1180), rylim=(-0.9, 0.9), rt=[-0.8, -0.4, 0.0, 0.4, 0.8],
         rf='%.1f', B=(1317, 2497, 669, 1243), s=(A_F_MAG, A_F_BLUE, A_F_PROP, A_F_RED, A_F_GREEN)),
    dict(lbl=THETA_LABEL, L=(237, 1173, 1371, 1877), lylim=(-0.4, 0.2), lt=[-0.4, -0.3, -0.2, -0.1, 0.0, 0.1, 0.2],
         lf='%.1f', lbox=(0.0185, -0.045, 0.039), R=(1501, 2437, 1374, 1880), rylim=(-0.14, 0.04),
         rt=[-0.10, -0.05, 0.0], rf='%.2f', B=(1317, 2497, 1378, 1936),
         s=(B_TH_MAG, B_TH_BLUE, B_TH_PROP, B_TH_RED, B_TH_GREEN)),
    dict(lbl=FREQ_LABEL, L=(237, 1173, 1968, 2470), lylim=(-7.1, 10), lt=[-5, 0, 5, 10], lf='%d',
         lbox=(0.0185, -0.87, 1.03), R=(1501, 2437, 1970, 2473), rylim=(-1, 3.86), rt=[-1, 0, 1, 2, 3], rf='%d',
         B=(1317, 2497, 1966, 2539), s=(B_F_MAG, B_F_BLUE, B_F_PROP, B_F_RED, B_F_GREEN)),
    dict(lbl=THETA_LABEL, L=(241, 1179, 2671, 3174), lylim=(-0.17, 0.168),
         lt=[-0.15, -0.10, -0.05, 0.0, 0.05, 0.10, 0.15], lf='%.2f', lbox=(0.018, -0.020, 0.0284),
         R=(1495, 2432, 2678, 3182), rylim=(-0.017, 0.017), rt=[-0.01, 0.0, 0.01], rf='%.2f',
         B=(1317, 2497, 2669, 3249), s=(C_TH_MAG, C_TH_BLUE, C_TH_PROP, C_TH_RED, C_TH_GREEN)),
    dict(lbl=FREQ_LABEL, L=(243, 1180, 3281, 3783), lylim=(-5, 4.87), lt=[-4, -2, 0, 2, 4], lf='%d',
         lbox=(0.0168, -0.58, 0.76), R=(1501, 2437, 3288, 3792), rylim=(-0.5, 0.5), rt=[-0.3, 0.0, 0.3], rf='%.1f',
         B=(1317, 2497, 3278, 3859), s=(C_F_MAG, C_F_BLUE, C_F_PROP, C_F_RED, C_F_GREEN)),
    dict(lbl=THETA_LABEL, L=(252, 1159, 3988, 4484), lylim=(-0.152, 0.345), lt=[-0.1, 0.0, 0.1, 0.2, 0.3], lf='%.1f',
         lbox=(0.0155, -0.029, 0.04), R=(1530, 2429, 4010, 4509), rylim=(-0.014, 0.0138),
         rt=[-0.010, -0.005, 0.0, 0.005, 0.010], rf='%.3f', B=(1310, 2487, 3990, 4568),
         s=(D_TH_MAG, D_TH_BLUE, D_TH_PROP, D_TH_RED, D_TH_GREEN)),
    dict(lbl=FREQ_LABEL, L=(244, 1159, 4607, 5106), lylim=(-5, 5.7), lt=[-4, -2, 0, 2, 4], lf='%d',
         lbox=(0.0163, -0.75, 0.73), R=(1525, 2424, 4614, 5114), rylim=(-1.5, 1.49), rt=[-1, 0, 1], rf='%d',
         B=(1312, 2487, 4591, 5170), s=(D_F_MAG, D_F_BLUE, D_F_PROP, D_F_RED, D_F_GREEN)),
]
TIME_Y = [1274, 2575, 3897, 5211]
TAG_Y = [1342, 2645, 3959, 5276]

fig = plt.figure(figsize=(W / 100, H / 100), dpi=100)


def px_axes(x0, x1, yt, yb):
    return fig.add_axes([x0 / W, 1 - yb / H, (x1 - x0) / W, (yb - yt) / H])


def fx(x):
    return x / W


def fy(y):
    return 1 - y / H


def style(ax, xlim, xticks, xfmt, ylim, yticks, yfmt, vgrid, xpad=12):
    ax.set_xlim(*xlim)
    ax.set_ylim(*ylim)
    for s in ['top', 'right']:
        ax.spines[s].set_visible(False)
    ax.spines['left'].set_linewidth(1.6)
    ax.spines['bottom'].set_linewidth(6)
    ax.spines['bottom'].set_color('#151515')
    ax.set_xticks(xticks)
    ax.set_xticklabels([xfmt % v for v in xticks])
    ax.set_yticks(yticks)
    ax.set_yticklabels([yfmt % v for v in yticks])
    ax.tick_params(length=0, labelsize=38)
    ax.tick_params(axis='x', pad=xpad)
    ax.tick_params(axis='y', pad=12)
    span = ylim[1] - ylim[0]
    for v in yticks:
        if ylim[0] + 0.01 * span < v < ylim[1] - 0.01 * span:
            ax.axhline(v, color='#a9a9a9', lw=4.2, zorder=0.5)
    for v in vgrid:
        ax.axvline(v, color='#7a7a7a', lw=1.3, zorder=0.6)


def series(pairs):
    a = np.array(pairs, dtype=float)
    return a[:, 0] / 1000.0, a[:, 1]


for i, r in enumerate(rows):
    group_d = i >= 6
    axL = px_axes(*r['L'])
    axR = px_axes(*r['R'])
    style(axL, (0, 0.1), [0, 0.02, 0.04, 0.06, 0.08, 0.10], '%.2f', r['lylim'], r['lt'], r['lf'],
          [0.02, 0.04, 0.06, 0.08])
    style(axR, (0.02, 0.06), [0.02, 0.04, 0.06], '%.2f', r['rylim'], r['rt'], r['rf'], [0.04], xpad=15)

    mag, blue, prop, red, green = [series(p) for p in r['s']]
    # left panel
    axL.plot(*mag, color=C_MAG, lw=2.0, zorder=2)
    axL.plot(*blue, color=C_BLUE, lw=2.0, zorder=3)
    axL.plot(*prop, color=C_ORANGE, lw=4.5 if group_d else 2.6, zorder=7 if group_d else 4)
    axL.plot(*red, color=C_RED, lw=4.5, zorder=6 if group_d else 5)
    axL.plot(*green, color=C_GREEN, lw=4.5, zorder=5 if group_d else 6)
    # zoomed panel
    axR.plot(*mag, color=C_MAG, lw=1.8, zorder=2)
    axR.plot(*blue, color=C_BLUE, lw=1.8, zorder=3)
    axR.plot(*green, color=C_GREEN, lw=5.5, zorder=4)
    axR.plot(*red, color=C_RED, lw=5.5, zorder=5)
    axR.plot(*prop, color=C_ORANGE if group_d else C_GOLD, lw=4.5 if group_d else 3.4, zorder=6)

    fig.text(fx(72), fy((r['L'][2] + r['L'][3]) / 2), r['lbl'], rotation=90, ha='center', va='center',
             fontsize=44, fontweight='bold')

    # small dotted box on the left panel
    bx0, by0, by1 = r['lbox']
    dot = dict(color='k', lw=4.6, ls=(0, (0.9, 0.8)), clip_on=False, zorder=8, solid_capstyle='butt')
    dash = dict(color='k', lw=2.6, ls=(0, (4, 2.5)), clip_on=False, zorder=8)
    axL.plot([bx0, 0.1], [by1, by1], **dot)
    axL.plot([bx0, 0.1], [by0, by0], **dot)
    axL.plot([bx0, bx0], [by0, by1], **dash)
    axL.plot([0.1, 0.1], [by0, by1], **dash)

    # big box around the zoomed panel
    x0, x1, y0, y1 = r['B']
    fig.add_artist(Line2D([fx(x0), fx(x1)], [fy(y0), fy(y0)], transform=fig.transFigure, color='k', lw=4.6,
                          ls=(0, (0.9, 0.8))))
    fig.add_artist(Line2D([fx(x0), fx(x1)], [fy(y1), fy(y1)], transform=fig.transFigure, color='k', lw=4.6,
                          ls=(0, (0.9, 0.8))))
    for xx in (x0, x1):
        fig.add_artist(Line2D([fx(xx), fx(xx)], [fy(y0), fy(y1)], transform=fig.transFigure, color='k', lw=2.6,
                              ls=(0, (4, 2.5))))
    for yl, yb in ((by1, y0), (by0, y1)):
        con = ConnectionPatch(xyA=(0.1, yl), coordsA=axL.transData, xyB=(fx(x0), fy(yb)),
                              coordsB=fig.transFigure, color='k', lw=2.6, ls=(0, (4, 2.5)))
        fig.add_artist(con)

    if i == 0:
        axTH_L, axTH_R = axL, axR

    if i % 2 == 1:
        g = i // 2
        fig.text(fx(1265), fy(TIME_Y[g]), 'Time (s)', ha='center', va='center', fontsize=44)
        fig.text(fx(1262), fy(TAG_Y[g]), GROUP_TAGS[g], ha='center', va='center', fontsize=44)

# legend texts and arrows on top
leg_x = [357, 655, 955, 1645, 2058]
leg_c = [C_MAG, C_BLUE, '#00ee00', C_RED, C_GOLD]
for name, x, c in zip(LEGEND_NAMES, leg_x, leg_c):
    fig.text(fx(x), fy(51), name, color=c, ha='center', va='center', fontsize=37)

arrow_kw = dict(arrowstyle='-|>,head_length=1.3,head_width=0.35', lw=5.5, mutation_scale=25, shrinkA=0, shrinkB=0)
for ax, x, tip, tail, c in [(axTH_L, 0.0162, 0.082, 0.156, C_MAG), (axTH_L, 0.0428, 0.109, 0.158, C_BLUE),
                            (axTH_L, 0.0731, 0.003, 0.155, '#00ee00'), (axTH_R, 0.0259, 0.0043, 0.0122, C_RED),
                            (axTH_R, 0.0407, 0.0025, 0.0122, C_GOLD)]:
    ax.annotate('', xy=(x, tip), xytext=(x, tail), arrowprops=dict(color=c, **arrow_kw), annotation_clip=False,
                zorder=20)

fig.savefig('out.png', dpi=100)
